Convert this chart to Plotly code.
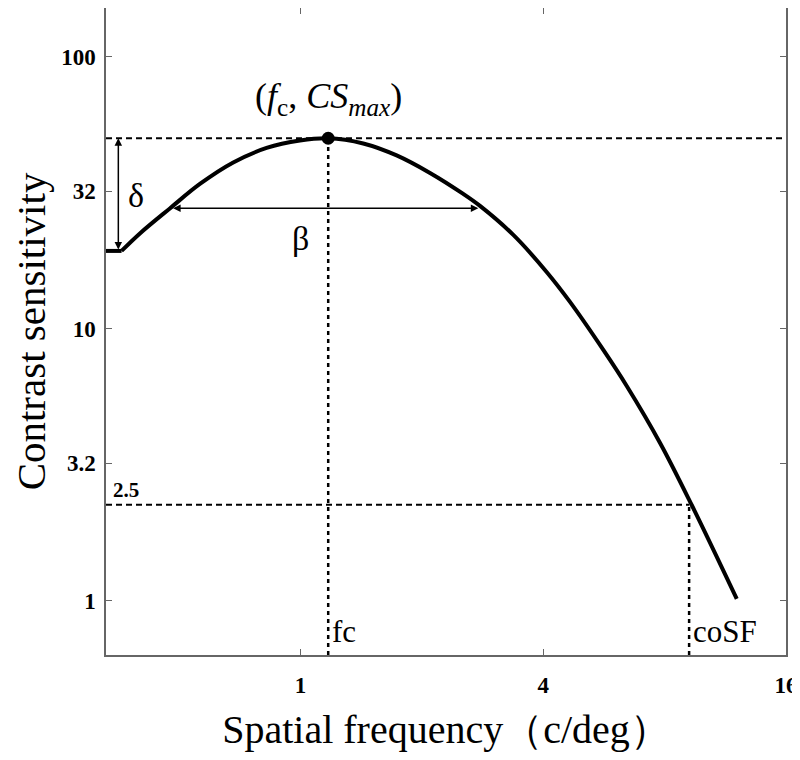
import math
import plotly.graph_objects as go

# ---- data ----
freq = [0.329, 0.3596, 0.3993, 0.4738, 0.5625, 0.6805, 0.8233, 0.9961, 1.1707,
        1.4301, 1.7304, 2.0938, 2.5321, 2.7862, 3.3703, 4.0767, 4.6583, 5.6355,
        6.4417, 7.793, 9.337, 12.077]
cs = [19.31, 19.31, 22.39, 27.67, 34.04, 40.84, 46.17, 49.19, 50.12,
      47.96, 43.34, 37.36, 31.28, 28.26, 22.11, 16.16, 12.54, 8.35,
      6.155, 3.80, 2.247, 1.0145]

peak_f, peak_cs = 1.1707, 50.12
cutoff_f, cutoff_cs = 9.2, 2.25
floor_cs = 19.31
delta_f = 0.353
beta_left_f, beta_right_f, beta_cs = 0.4786, 2.759, 27.71

x_min, x_max = 0.329, 16
y_min, y_max = 0.631, 151.0

x_ticks = [1, 4, 16]
x_ticktext = ["1", "4", "16"]
y_ticks = [1, 3.2, 10, 32, 100]
y_ticktext = ["1", "3.2", "10", "32", "100"]

SERIF = "Liberation Serif, Times New Roman, serif"
XT = "Spatial frequency（c/deg）"
YT = "Contrast sensitivity"

L = math.log10

fig = go.Figure()

dash_h = "6px,4px"
dash_v = "4px,4px"

# dashed guide lines
fig.add_trace(go.Scatter(x=[x_min, x_max], y=[peak_cs, peak_cs], mode="lines",
                         line=dict(color="black", width=2, dash=dash_h), hoverinfo="skip"))
fig.add_trace(go.Scatter(x=[peak_f, peak_f], y=[y_min, peak_cs], mode="lines",
                         line=dict(color="black", width=2.5, dash=dash_v), hoverinfo="skip"))
fig.add_trace(go.Scatter(x=[x_min, cutoff_f], y=[cutoff_cs, cutoff_cs], mode="lines",
                         line=dict(color="black", width=2, dash=dash_h), hoverinfo="skip"))
fig.add_trace(go.Scatter(x=[cutoff_f, cutoff_f], y=[y_min, cutoff_cs], mode="lines",
                         line=dict(color="black", width=2.5, dash=dash_v), hoverinfo="skip"))

# curve: truncated floor then smooth parabola
fig.add_trace(go.Scatter(x=freq[:2], y=cs[:2], mode="lines",
                         line=dict(color="black", width=4), hoverinfo="skip"))
fig.add_trace(go.Scatter(x=freq[1:], y=cs[1:], mode="lines",
                         line=dict(color="black", width=4, shape="spline", smoothing=1.0)))
# peak marker
fig.add_trace(go.Scatter(x=[peak_f], y=[peak_cs], mode="markers",
                         marker=dict(color="black", size=13)))

ann = []
# delta double arrow
ann.append(dict(x=L(delta_f), y=L(peak_cs), ax=L(delta_f), ay=L(floor_cs),
                xref="x", yref="y", axref="x", ayref="y", text="", showarrow=True,
                arrowside="end+start", arrowhead=2, startarrowhead=2,
                arrowsize=1, startarrowsize=1, arrowwidth=1.5, arrowcolor="black",
                standoff=0, startstandoff=0))
# beta double arrow
ann.append(dict(x=L(beta_right_f), y=L(beta_cs), ax=L(beta_left_f), ay=L(beta_cs),
                xref="x", yref="y", axref="x", ayref="y", text="", showarrow=True,
                arrowside="end+start", arrowhead=2, startarrowhead=2,
                arrowsize=1, startarrowsize=1, arrowwidth=1.5, arrowcolor="black",
                standoff=0, startstandoff=0))

# text labels
ann.append(dict(x=L(peak_f), y=L(peak_cs), xref="x", yref="y", yshift=40,
                text="(<i>f</i><sub>c</sub>, <i>CS</i><sub><i>max</i></sub>)",
                showarrow=False, font=dict(family=SERIF, size=36, color="black")))
ann.append(dict(x=L(delta_f), y=(L(peak_cs) + L(floor_cs)) / 2, xref="x", yref="y",
                xshift=18, yshift=-1, text="δ", showarrow=False,
                font=dict(family=SERIF, size=34, color="black")))
ann.append(dict(x=(L(beta_left_f) + L(beta_right_f)) / 2, y=L(beta_cs), xref="x", yref="y",
                xshift=-24, yshift=-30, text="β", showarrow=False,
                font=dict(family=SERIF, size=34, color="black")))
ann.append(dict(x=L(x_min), y=L(cutoff_cs), xref="x", yref="y", xanchor="left",
                yanchor="bottom", xshift=5, yshift=1, text="<b>2.5</b>", showarrow=False,
                font=dict(family=SERIF, size=21, color="black")))
ann.append(dict(x=L(peak_f), y=L(y_min), xref="x", yref="y", xanchor="left",
                yanchor="bottom", xshift=2, yshift=4, text="fc", showarrow=False,
                font=dict(family=SERIF, size=31, color="black")))
ann.append(dict(x=L(cutoff_f), y=L(y_min), xref="x", yref="y", xanchor="left",
                yanchor="bottom", xshift=2, yshift=4, text="coSF", showarrow=False,
                font=dict(family=SERIF, size=31, color="black")))

fig.update_layout(
    width=792, height=744,
    margin=dict(l=98, r=14, t=0, b=97, autoexpand=False),
    plot_bgcolor="white", paper_bgcolor="white",
    showlegend=False,
    annotations=ann,
    font=dict(family=SERIF, color="black"),
)
fig.update_xaxes(type="log", range=[L(x_min), L(x_max)], automargin=False,
                 tickvals=x_ticks, ticktext=x_ticktext,
                 ticks="inside", ticklen=6, tickwidth=1, tickcolor="#666",
                 showline=True, linecolor="#666", linewidth=1.5, mirror="ticks",
                 showgrid=False, zeroline=False,
                 tickfont=dict(family=SERIF, size=23, color="black", weight="bold"),
                 ticklabelstandoff=9,
                 title=dict(text=XT, font=dict(family=SERIF, size=40, color="black"), standoff=18))
fig.update_yaxes(type="log", range=[L(y_min), L(y_max)], automargin=False,
                 tickvals=y_ticks, ticktext=y_ticktext,
                 ticks="inside", ticklen=6, tickwidth=1, tickcolor="#666",
                 showline=True, linecolor="#666", linewidth=1.5, mirror="ticks",
                 showgrid=False, zeroline=False,
                 tickfont=dict(family=SERIF, size=23, color="black", weight="bold"),
                 ticklabelstandoff=4,
                 title=dict(text=YT, font=dict(family=SERIF, size=41, color="black"), standoff=24))

fig.write_html("out.html")
